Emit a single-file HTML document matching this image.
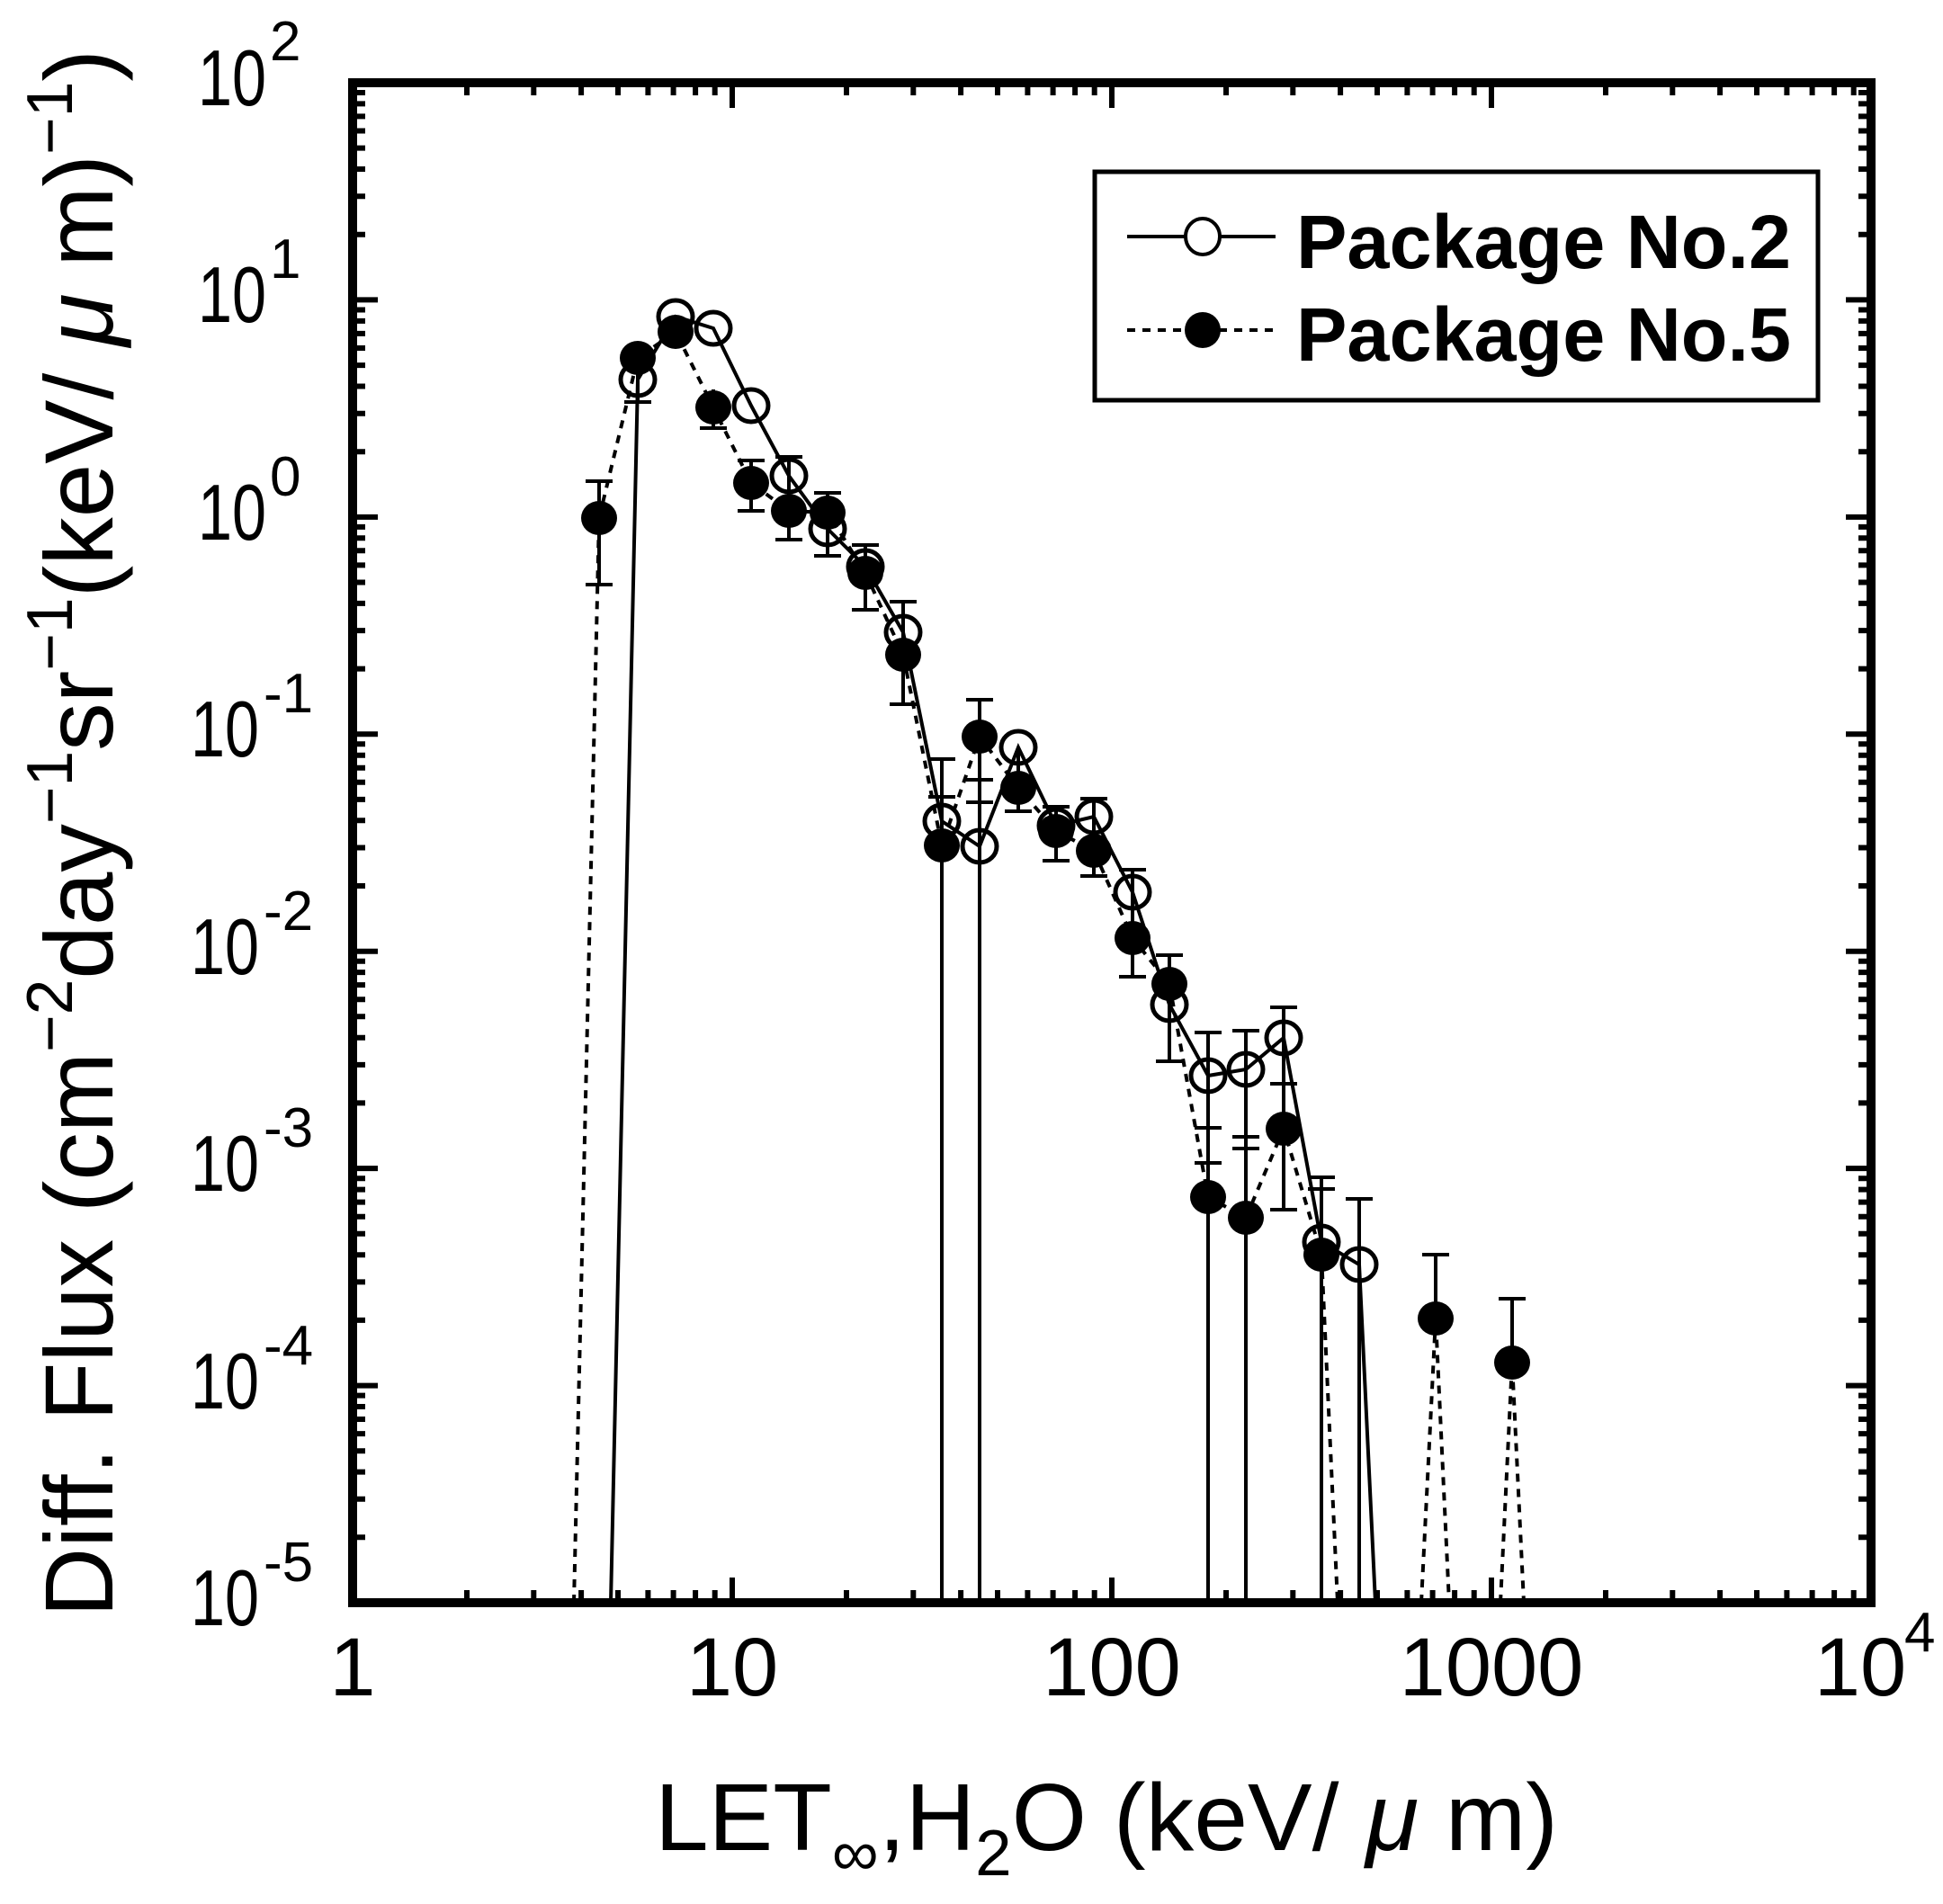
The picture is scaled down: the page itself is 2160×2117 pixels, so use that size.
<!DOCTYPE html>
<html><head><meta charset="utf-8"><style>
html,body{margin:0;padding:0;background:#fff}
svg{display:block}
text{font-family:"Liberation Sans",Arial,sans-serif;fill:#000}
</style></head><body>
<svg width="2160" height="2117" viewBox="0 0 2160 2117" xmlns="http://www.w3.org/2000/svg">
<defs>
<path id="ly" d="M0 -72.7h14M0 -115.2h14M0 -145.4h14M0 -168.8h14M0 -187.9h14M0 -204h14M0 -218h14M0 -230.4h14" stroke="#000" stroke-width="6"/>
<path id="ry" d="M0 -72.7h-14M0 -115.2h-14M0 -145.4h-14M0 -168.8h-14M0 -187.9h-14M0 -204h-14M0 -218h-14M0 -230.4h-14" stroke="#000" stroke-width="6"/>
<path id="bx" d="M127 0v-14M201.3 0v-14M254.1 0v-14M295 0v-14M328.4 0v-14M356.6 0v-14M381.1 0v-14M402.7 0v-14" stroke="#000" stroke-width="6"/>
<path id="tx" d="M127 0v14M201.3 0v14M254.1 0v14M295 0v14M328.4 0v14M356.6 0v14M381.1 0v14M402.7 0v14" stroke="#000" stroke-width="6"/>
</defs>

<g>
<use href="#ly" transform="translate(392,1782)"/><use href="#ly" transform="translate(392,1540.6)"/><use href="#ly" transform="translate(392,1299.1)"/><use href="#ly" transform="translate(392,1057.7)"/><use href="#ly" transform="translate(392,816.3)"/><use href="#ly" transform="translate(392,574.9)"/><use href="#ly" transform="translate(392,333.4)"/>
<use href="#ry" transform="translate(2080,1782)"/><use href="#ry" transform="translate(2080,1540.6)"/><use href="#ry" transform="translate(2080,1299.1)"/><use href="#ry" transform="translate(2080,1057.7)"/><use href="#ry" transform="translate(2080,816.3)"/><use href="#ry" transform="translate(2080,574.9)"/><use href="#ry" transform="translate(2080,333.4)"/>
<use href="#bx" transform="translate(392,1782)"/><use href="#bx" transform="translate(814,1782)"/><use href="#bx" transform="translate(1236,1782)"/><use href="#bx" transform="translate(1658,1782)"/>
<use href="#tx" transform="translate(392,92)"/><use href="#tx" transform="translate(814,92)"/><use href="#tx" transform="translate(1236,92)"/><use href="#tx" transform="translate(1658,92)"/>
</g>
<path stroke="#000" stroke-width="6" d="M392 1540.6h28M392 1299.1h28M392 1057.7h28M392 816.3h28M392 574.9h28M392 333.4h28
M2080 1540.6h-28M2080 1299.1h-28M2080 1057.7h-28M2080 816.3h-28M2080 574.9h-28M2080 333.4h-28
M814 1782v-28M1236 1782v-28M1658 1782v-28M814 92v28M1236 92v28M1658 92v28"/>

<rect x="392" y="92" width="1688" height="1690" fill="none" stroke="#000" stroke-width="10"/>

<path fill="none" stroke="#000" stroke-width="4" d="M679 1782 L709 422 L751 352 L793 365 L835 451 L877 529 L920 588 L962 630 L1004 703 L1047 913 L1089 941 L1132 831 L1174 918 L1216 908 L1259 992 L1300 1117 L1343 1196 L1385 1189 L1427 1154 L1469 1381 L1511 1406 L1529 1782"/>
<path fill="none" stroke="#000" stroke-width="4" stroke-dasharray="9,8" d="M638 1782 L666 576 L709 398 L751 369 L793 453 L835 537 L877 568 L920 570 L962 637 L1004 728 L1047 940 L1089 819 L1132 876 L1174 924 L1216 946 L1259 1043 L1300 1094 L1343 1331 L1385 1354 L1427 1255 L1469 1395 L1487 1782 M1580 1782 L1596 1466 L1611 1782 M1668 1782 L1681 1515 L1694 1782"/>

<path fill="none" stroke="#000" stroke-width="4" d="
M666 535V650M651 535h30M651 650h30
M709 398V447M694 447h30
M793 433V476M778 476h30
M835 512V568M820 512h30M820 568h30
M877 508V600M862 508h30M862 600h30
M920 548V618M905 548h30M905 618h30
M962 606V678M947 606h30M947 678h30
M1004 669V783M989 669h30M989 783h30
M1047 844V1782M1032 844h30M1032 886h30
M1089 778V1782M1074 778h30M1074 867h30M1074 892h30
M1132 831V902M1117 902h30
M1174 897V957M1159 897h30M1159 957h30
M1216 888V974M1201 888h30M1201 974h30
M1259 967V1086M1244 967h30M1244 1086h30
M1300 1062V1180M1285 1062h30M1285 1180h30
M1343 1148V1782M1328 1148h30M1328 1254h30M1328 1293h30
M1385 1146V1782M1370 1146h30M1370 1264h30M1370 1277h30
M1427 1120V1345M1412 1120h30M1412 1205h30M1412 1345h30
M1469 1309V1782M1454 1309h30M1454 1322h30
M1511 1333V1782M1496 1333h30
M1596 1395V1466M1581 1395h30
M1681 1444V1515M1666 1444h30"/>

<g fill="none" stroke="#000" stroke-width="5">
<ellipse cx="709" cy="422" rx="19" ry="18"/><ellipse cx="751" cy="352" rx="19" ry="18"/><ellipse cx="793" cy="365" rx="19" ry="18"/><ellipse cx="835" cy="451" rx="19" ry="18"/><ellipse cx="877" cy="529" rx="19" ry="18"/><ellipse cx="920" cy="588" rx="19" ry="18"/><ellipse cx="962" cy="630" rx="19" ry="18"/><ellipse cx="1004" cy="703" rx="19" ry="18"/><ellipse cx="1047" cy="913" rx="19" ry="18"/><ellipse cx="1089" cy="941" rx="19" ry="18"/><ellipse cx="1132" cy="831" rx="19" ry="18"/><ellipse cx="1174" cy="918" rx="19" ry="18"/><ellipse cx="1216" cy="908" rx="19" ry="18"/><ellipse cx="1259" cy="992" rx="19" ry="18"/><ellipse cx="1300" cy="1117" rx="19" ry="18"/><ellipse cx="1343" cy="1196" rx="19" ry="18"/><ellipse cx="1385" cy="1189" rx="19" ry="18"/><ellipse cx="1427" cy="1154" rx="19" ry="18"/><ellipse cx="1469" cy="1381" rx="19" ry="18"/><ellipse cx="1511" cy="1406" rx="19" ry="18"/>
</g>
<g fill="#000">
<ellipse cx="666" cy="576" rx="20" ry="19"/><ellipse cx="709" cy="398" rx="20" ry="19"/><ellipse cx="751" cy="369" rx="20" ry="19"/><ellipse cx="793" cy="453" rx="20" ry="19"/><ellipse cx="835" cy="537" rx="20" ry="19"/><ellipse cx="877" cy="568" rx="20" ry="19"/><ellipse cx="920" cy="570" rx="20" ry="19"/><ellipse cx="962" cy="637" rx="20" ry="19"/><ellipse cx="1004" cy="728" rx="20" ry="19"/><ellipse cx="1047" cy="940" rx="20" ry="19"/><ellipse cx="1089" cy="819" rx="20" ry="19"/><ellipse cx="1132" cy="876" rx="20" ry="19"/><ellipse cx="1174" cy="924" rx="20" ry="19"/><ellipse cx="1216" cy="946" rx="20" ry="19"/><ellipse cx="1259" cy="1043" rx="20" ry="19"/><ellipse cx="1300" cy="1094" rx="20" ry="19"/><ellipse cx="1343" cy="1331" rx="20" ry="19"/><ellipse cx="1385" cy="1354" rx="20" ry="19"/><ellipse cx="1427" cy="1255" rx="20" ry="19"/><ellipse cx="1469" cy="1395" rx="20" ry="19"/><ellipse cx="1596" cy="1466" rx="20" ry="19"/><ellipse cx="1681" cy="1515" rx="20" ry="19"/>
</g>

<rect x="1217" y="191" width="804" height="254" fill="#fff" stroke="#000" stroke-width="5"/>
<path d="M1253 263H1418" stroke="#000" stroke-width="4"/>
<ellipse cx="1337" cy="263" rx="19" ry="20" fill="#fff" stroke="#000" stroke-width="4"/>
<path d="M1253 367H1418" stroke="#000" stroke-width="4" stroke-dasharray="9,8"/>
<ellipse cx="1337" cy="367" rx="20" ry="20" fill="#000"/>
<text x="1441" y="298" font-size="84" font-weight="bold" textLength="550" lengthAdjust="spacingAndGlyphs">Package No.2</text>
<text x="1441" y="401" font-size="84" font-weight="bold" textLength="550" lengthAdjust="spacingAndGlyphs">Package No.5</text>

<g font-size="88">
<text x="220" y="117" textLength="76" lengthAdjust="spacingAndGlyphs">10</text><text x="300" y="67" font-size="62">2</text>
<text x="220" y="358" textLength="76" lengthAdjust="spacingAndGlyphs">10</text><text x="300" y="309" font-size="62">1</text>
<text x="220" y="600" textLength="76" lengthAdjust="spacingAndGlyphs">10</text><text x="300" y="551" font-size="62">0</text>
<text x="212" y="841" textLength="76" lengthAdjust="spacingAndGlyphs">10</text><text x="293" y="792" font-size="62">-1</text>
<text x="212" y="1083" textLength="76" lengthAdjust="spacingAndGlyphs">10</text><text x="293" y="1034" font-size="62">-2</text>
<text x="212" y="1324" textLength="76" lengthAdjust="spacingAndGlyphs">10</text><text x="293" y="1275" font-size="62">-3</text>
<text x="212" y="1566" textLength="76" lengthAdjust="spacingAndGlyphs">10</text><text x="293" y="1517" font-size="62">-4</text>
<text x="212" y="1807" textLength="76" lengthAdjust="spacingAndGlyphs">10</text><text x="293" y="1758" font-size="62">-5</text>
</g>
<g font-size="92" text-anchor="middle">
<text x="392" y="1885">1</text>
<text x="814" y="1885">10</text>
<text x="1236" y="1885">100</text>
<text x="1658" y="1885">1000</text>
<text x="2068" y="1885">10</text>
</g>
<text x="2117" y="1836" font-size="62">4</text>

<text x="728" y="2057" font-size="106" textLength="1004" lengthAdjust="spacingAndGlyphs">LET<tspan font-size="72" dy="28">∞</tspan><tspan dy="-28">,H</tspan><tspan font-size="72" dy="28">2</tspan><tspan dy="-28">O (keV/ </tspan><tspan font-style="italic">μ</tspan><tspan> m)</tspan></text>

<text transform="translate(125,1798) rotate(-90)" x="0" y="0" font-size="108" textLength="1743" lengthAdjust="spacingAndGlyphs">Diff. Flux (cm<tspan font-size="72" dy="-45">−2</tspan><tspan dy="45">day</tspan><tspan font-size="72" dy="-45">−1</tspan><tspan dy="45">sr</tspan><tspan font-size="72" dy="-45">−1</tspan><tspan dy="45">(keV/ </tspan><tspan font-style="italic">μ</tspan><tspan> m)</tspan><tspan font-size="72" dy="-45">−1</tspan><tspan dy="45">)</tspan></text>
</svg>
</body></html>
